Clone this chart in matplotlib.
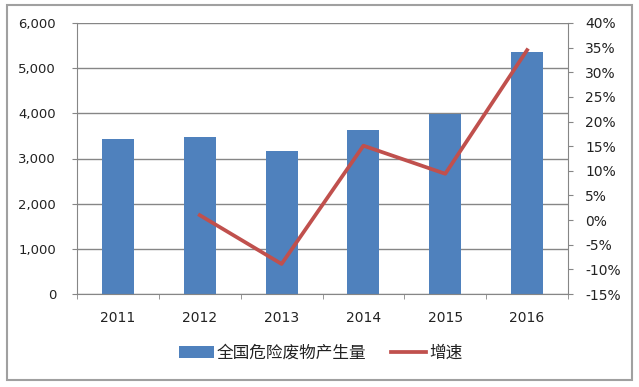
import matplotlib
matplotlib.use("Agg")
import matplotlib.pyplot as plt
from matplotlib.patches import Rectangle
from matplotlib.ticker import FuncFormatter, FixedLocator

plt.rcParams["font.family"] = ["DejaVu Sans", "Noto Sans CJK SC"]

years = ["2011", "2012", "2013", "2014", "2015", "2016"]
volume = [3431, 3465, 3157, 3634, 3976, 5347]
growth_years = ["2012", "2013", "2014", "2015", "2016"]
growth = [1.0, -8.9, 15.1, 9.4, 34.5]

bar_color = "#4F81BD"
line_color = "#C0504D"
grid_color = "#868686"
text_color = "#222222"

fig = plt.figure(figsize=(6.39, 3.87), dpi=100)
ax = fig.add_axes([77 / 639, 1 - 294 / 387, (568 - 77) / 639, (294 - 23) / 387])

x = list(range(len(years)))
ax.bar(x, volume, width=0.39, color=bar_color, zorder=2, label="全国危险废物产生量")
ax.set_xlim(-0.5, len(years) - 0.5)
ax.set_ylim(0, 6000)
ax.set_yticks(range(0, 6001, 1000))
ax.yaxis.set_major_formatter(FuncFormatter(lambda v, p: f"{int(v):,}"))
ax.grid(axis="y", color=grid_color, linewidth=1, zorder=0)
ax.set_xticks(x)
ax.set_xticklabels(years)
ax.xaxis.set_minor_locator(FixedLocator([i - 0.5 for i in range(len(years) + 1)]))
ax.tick_params(axis="x", which="major", length=0, pad=12.5, labelsize=10, colors=text_color)
ax.tick_params(axis="x", which="minor", length=3.6, color=grid_color, direction="out")
ax.tick_params(axis="y", length=3.6, color=grid_color, pad=11.5, labelsize=9.5, labelcolor=text_color)
for s in ["top", "right"]:
    ax.spines[s].set_visible(False)
for s in ["left", "bottom"]:
    ax.spines[s].set_color(grid_color)

ax2 = ax.twinx()
gx = [years.index(y) for y in growth_years]
ax2.plot(gx, growth, color=line_color, linewidth=2.7, zorder=3, label="增速")
ax2.set_ylim(-15, 40)
ax2.set_yticks(range(-15, 41, 5))
ax2.yaxis.set_major_formatter(FuncFormatter(lambda v, p: f"{int(v)}%"))
ax2.tick_params(axis="y", length=3.6, color=grid_color, pad=8.6, labelsize=10, labelcolor=text_color)
for s in ["top", "left", "bottom"]:
    ax2.spines[s].set_visible(False)
ax2.spines["right"].set_color(grid_color)

h1, l1 = ax.get_legend_handles_labels()
h2, l2 = ax2.get_legend_handles_labels()
fig.legend(h1 + h2, l1 + l2, loc="center", bbox_to_anchor=(0.502, 1 - 353 / 387),
           ncol=2, frameon=False, prop={"family": ["Noto Sans CJK SC"], "size": 12},
           handlelength=2.05, handletextpad=0.2, columnspacing=1.5, labelcolor=text_color)

fig.patches.append(Rectangle((7 / 639, 1 - 380 / 387), 625 / 639, 375 / 387,
                             transform=fig.transFigure, fill=False,
                             edgecolor="#A0A0A0", linewidth=1.5))

fig.savefig("out.png", dpi=100)
